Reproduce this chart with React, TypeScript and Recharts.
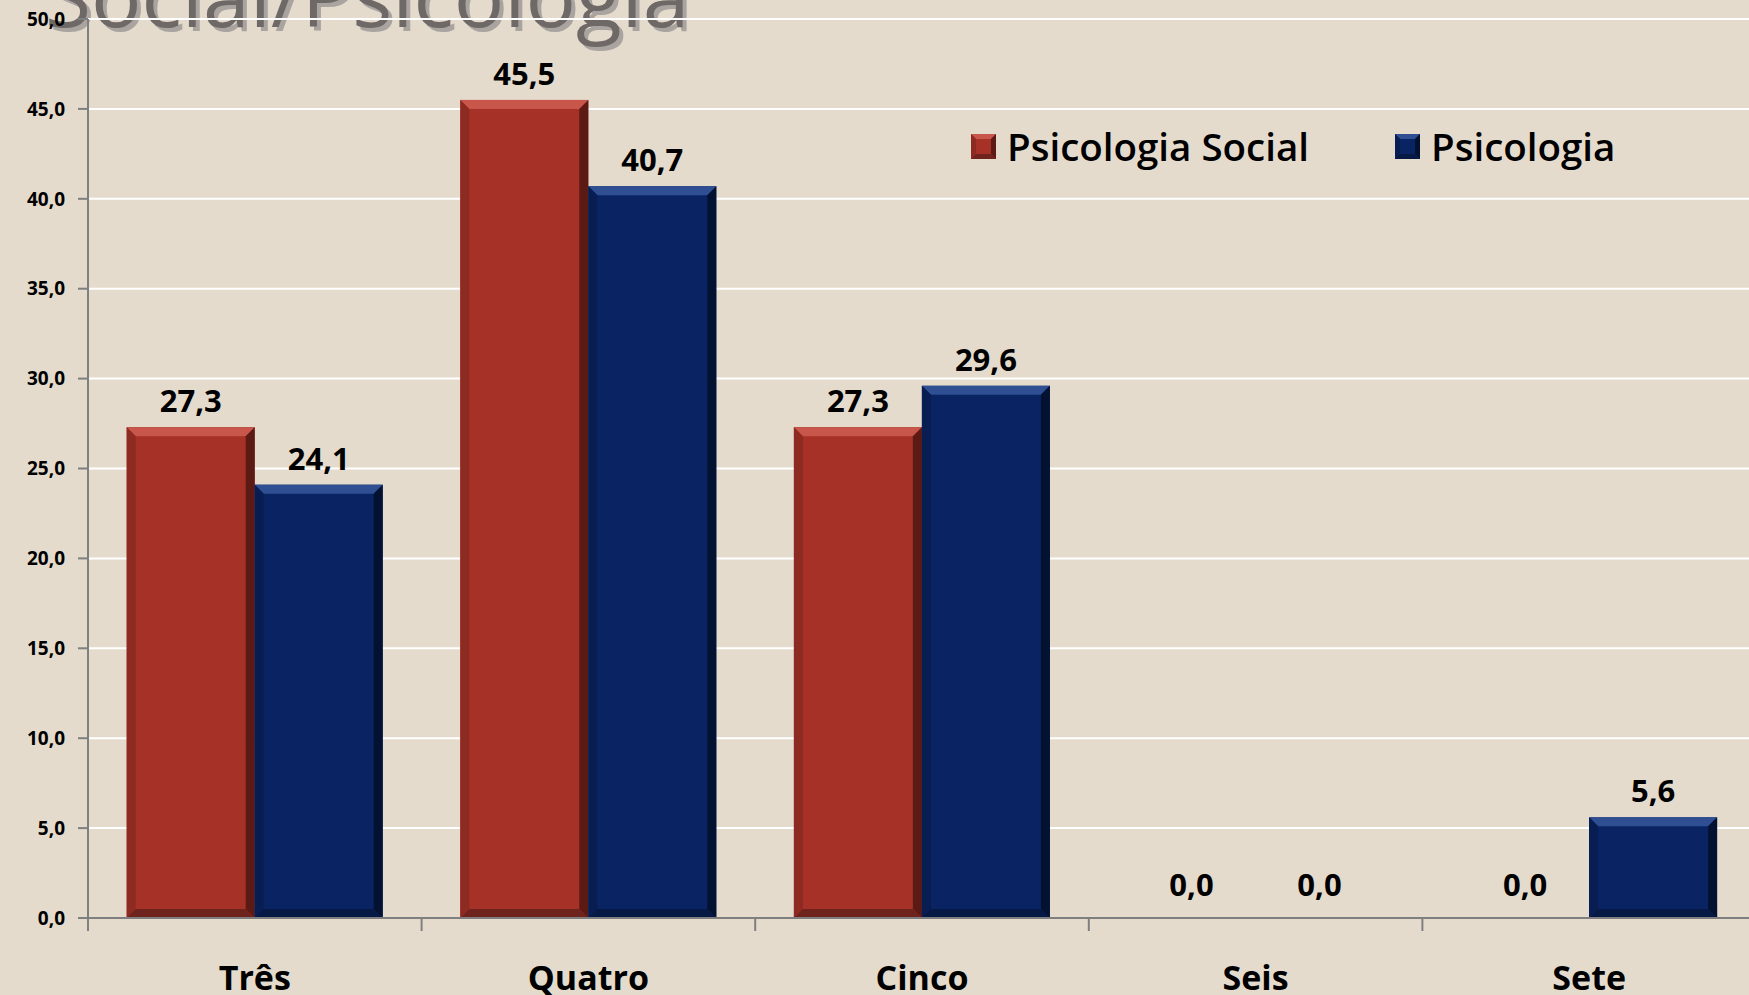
import { BarChart, Bar, XAxis, YAxis, CartesianGrid, LabelList } from "recharts";

const categories = ["Três", "Quatro", "Cinco", "Seis", "Sete"];
const psicologiaSocial = [27.3, 45.5, 27.3, 0.0, 0.0];
const psicologia = [24.1, 40.7, 29.6, 0.0, 5.6];
const yTicks = [0, 5, 10, 15, 20, 25, 30, 35, 40, 45, 50];

const data = categories.map((name, i) => ({
  name,
  social: psicologiaSocial[i],
  psico: psicologia[i],
}));

const FONT = "'Open Sans', 'DejaVu Sans', sans-serif";
const AXIS_GREY = "#7f7f7f";

interface BevelColors {
  base: string;
  top: string;
  left: string;
  right: string;
  bottom: string;
}

const RED: BevelColors = {
  base: "#a53127",
  top: "#c9564a",
  left: "#8d2a21",
  right: "#5c1a14",
  bottom: "#6e241c",
};

const BLUE: BevelColors = {
  base: "#0a2463",
  top: "#2f4f92",
  left: "#081d52",
  right: "#041232",
  bottom: "#061945",
};

const fmt = (v: number) => v.toFixed(1).replace(".", ",");

function bevelRect(
  x: number,
  y: number,
  w: number,
  h: number,
  c: BevelColors,
  b: number
) {
  if (h <= 0 || w <= 0) return null;
  const bb = Math.min(b, h / 2, w / 2);
  return (
    <g>
      <rect x={x} y={y} width={w} height={h} fill={c.base} />
      <polygon
        points={`${x},${y} ${x + w},${y} ${x + w - bb},${y + bb} ${x + bb},${y + bb}`}
        fill={c.top}
      />
      <polygon
        points={`${x},${y} ${x + bb},${y + bb} ${x + bb},${y + h - bb} ${x},${y + h}`}
        fill={c.left}
      />
      <polygon
        points={`${x + w},${y} ${x + w},${y + h} ${x + w - bb},${y + h - bb} ${x + w - bb},${y + bb}`}
        fill={c.right}
      />
      <polygon
        points={`${x},${y + h} ${x + bb},${y + h - bb} ${x + w - bb},${y + h - bb} ${x + w},${y + h}`}
        fill={c.bottom}
      />
    </g>
  );
}

const redShape = (p: any) => bevelRect(p.x, p.y, p.width, p.height, RED, 9);
const blueShape = (p: any) => bevelRect(p.x, p.y, p.width, p.height, BLUE, 9);

function ValueLabel(props: any) {
  const { x, y, width, value } = props;
  const off = value === 0 ? 22 : 15;
  return (
    <text
      x={x + width / 2}
      y={y - off}
      textAnchor="middle"
      fontFamily={FONT}
      fontWeight={700}
      fontSize={31}
      fill="#000"
    >
      {fmt(value)}
    </text>
  );
}

// category label centred in its band, tick mark drawn at the band's left edge
function CategoryTick(props: any) {
  const { x, y, payload, width, visibleTicksCount } = props;
  const band = width / (visibleTicksCount || categories.length);
  const edge = x - band / 2;
  return (
    <g>
      <line x1={edge} x2={edge} y1={y - 13} y2={y} stroke={AXIS_GREY} strokeWidth={2} />
      <text
        x={x}
        y={y + 59}
        textAnchor="middle"
        fontFamily={FONT}
        fontWeight={700}
        fontSize={34}
        fill="#000"
      >
        {payload.value}
      </text>
    </g>
  );
}

function LegendItem({ label, colors }: { label: string; colors: BevelColors }) {
  return (
    <div style={{ display: "flex", alignItems: "center" }}>
      <svg width={25} height={25} style={{ marginRight: 11 }}>
        {bevelRect(0, 0, 25, 25, colors, 5)}
      </svg>
      <span style={{ fontFamily: FONT, fontWeight: 600, fontSize: 38.5, color: "#000" }}>
        {label}
      </span>
    </div>
  );
}

export default function App() {
  return (
    <div
      style={{
        position: "fixed",
        left: 0,
        top: 0,
        width: 1749,
        height: 995,
        overflow: "hidden",
        background: "#e4dbcd",
      }}
    >
      <svg
        width={1749}
        height={80}
        style={{ position: "absolute", left: 0, top: 0 }}
      >
        <text x={49} y={31} fontFamily={FONT} fontSize={84} fill="#a9a4a0">
          Social/Psicologia
        </text>
        <text x={45} y={27} fontFamily={FONT} fontSize={84} fill="#6e6866">
          Social/Psicologia
        </text>
      </svg>
      <div style={{ position: "absolute", left: 0, top: 0 }}>
        <BarChart
          width={1770}
          height={995}
          data={data}
          margin={{ top: 19, right: 14, bottom: 0, left: 0 }}
          barCategoryGap="11.6%"
          barGap={0}
        >
          <CartesianGrid vertical={false} stroke="#ffffff" strokeWidth={2} />
          <XAxis
            dataKey="name"
            height={77}
            axisLine={{ stroke: AXIS_GREY, strokeWidth: 2 }}
            tickLine={false}
            tickSize={13}
            tickMargin={0}
            tick={<CategoryTick />}
            interval={0}
          />
          <YAxis
            width={88}
            domain={[0, 50]}
            ticks={yTicks}
            tickFormatter={fmt}
            axisLine={{ stroke: AXIS_GREY, strokeWidth: 2 }}
            tickLine={{ stroke: AXIS_GREY, strokeWidth: 2 }}
            tickSize={10}
            tickMargin={13}
            tick={{ fontFamily: FONT, fontWeight: 700, fontSize: 19, fill: "#000" }}
          />
          <Bar dataKey="social" name="Psicologia Social" shape={redShape} isAnimationActive={false}>
            <LabelList dataKey="social" content={<ValueLabel />} />
          </Bar>
          <Bar dataKey="psico" name="Psicologia" shape={blueShape} isAnimationActive={false}>
            <LabelList dataKey="psico" content={<ValueLabel />} />
          </Bar>
        </BarChart>
      </div>
      <div
        style={{
          position: "absolute",
          left: 971,
          top: 120,
          display: "flex",
          gap: 86,
        }}
      >
        <LegendItem label="Psicologia Social" colors={RED} />
        <LegendItem label="Psicologia" colors={BLUE} />
      </div>
    </div>
  );
}
